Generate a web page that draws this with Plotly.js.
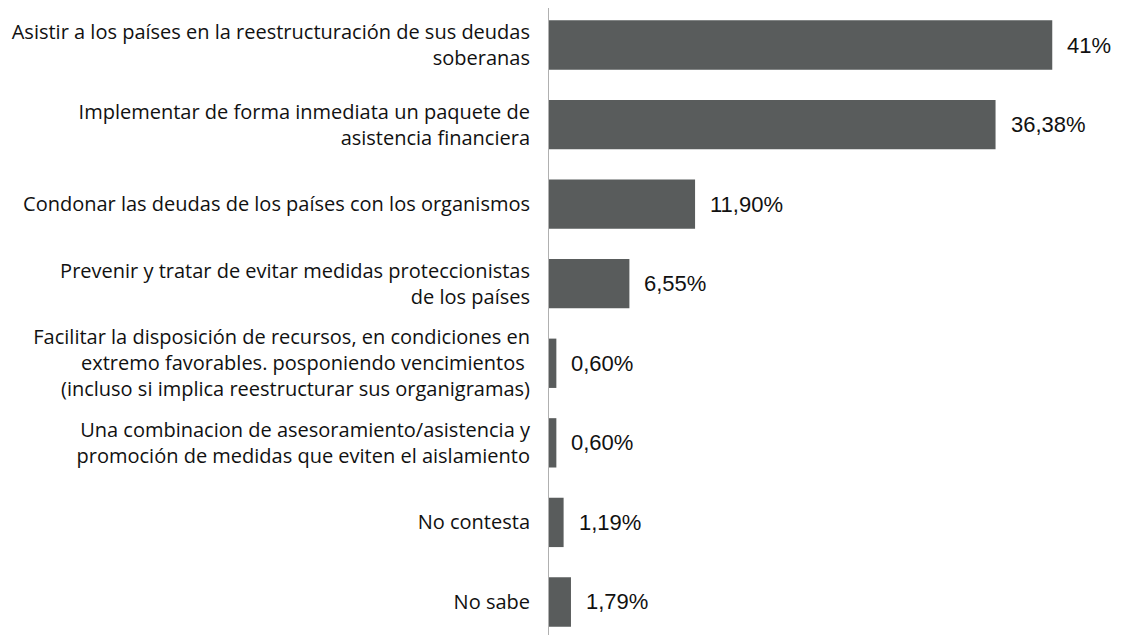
<!DOCTYPE html>
<html>
<head>
<meta charset="utf-8">
<script src="https://cdn.plot.ly/plotly-3.0.1.min.js"></script>
<style>html,body{margin:0;padding:0;background:#fff;}#chart{width:1121px;height:635px;}</style>
</head>
<body>
<div id="chart"></div>
<script>
const categories = [
  "Asistir a los países en la reestructuración de sus deudas<br>soberanas",
  "Implementar de forma inmediata un paquete de<br>asistencia financiera",
  "Condonar las deudas de los países con los organismos",
  "Prevenir y tratar de evitar medidas proteccionistas<br>de los países",
  "Facilitar la disposición de recursos, en condiciones en<br>extremo favorables. posponiendo vencimientos <br>(incluso si implica reestructurar sus organigramas)",
  "Una combinacion de asesoramiento/asistencia y<br>promoción de medidas que eviten el aislamiento",
  "No contesta",
  "No sabe"
];
const values = [41, 36.38, 11.90, 6.55, 0.60, 0.60, 1.19, 1.79];
const valueLabels = ["41%", "36,38%", "11,90%", "6,55%", "0,60%", "0,60%", "1,19%", "1,79%"];

const trace = {
  type: 'bar',
  orientation: 'h',
  y: categories,
  x: values,
  marker: {color: '#595c5c'},
  hoverinfo: 'none'
};

const annotations = values.map((v, i) => ({
  x: v, y: categories[i], xref: 'x', yref: 'y',
  text: valueLabels[i], showarrow: false,
  xanchor: 'left', yanchor: 'middle', xshift: 13,
  font: {family: 'Liberation Sans, Arial, sans-serif', size: 22, color: '#111'}
}));

const layout = {
  width: 1121, height: 635,
  margin: {l: 549, r: 0, t: 8, b: 0},
  paper_bgcolor: '#fff', plot_bgcolor: '#fff',
  showlegend: false,
  bargap: 0.38,
  xaxis: {range: [0, 46.6], showgrid: false, zeroline: false, showticklabels: false, showline: false, fixedrange: true},
  yaxis: {
    type: 'category',
    range: [7.415, -0.465],
    showgrid: false, zeroline: false,
    showline: true, linecolor: '#b0b0b0', linewidth: 1,
    ticks: '', ticklabelstandoff: 14,
    tickfont: {family: 'Open Sans, sans-serif', size: 20, color: '#111'}
  },
  annotations: annotations
};

Plotly.newPlot('chart', [trace], layout, {displayModeBar: false, staticPlot: true});
</script>
</body>
</html>
